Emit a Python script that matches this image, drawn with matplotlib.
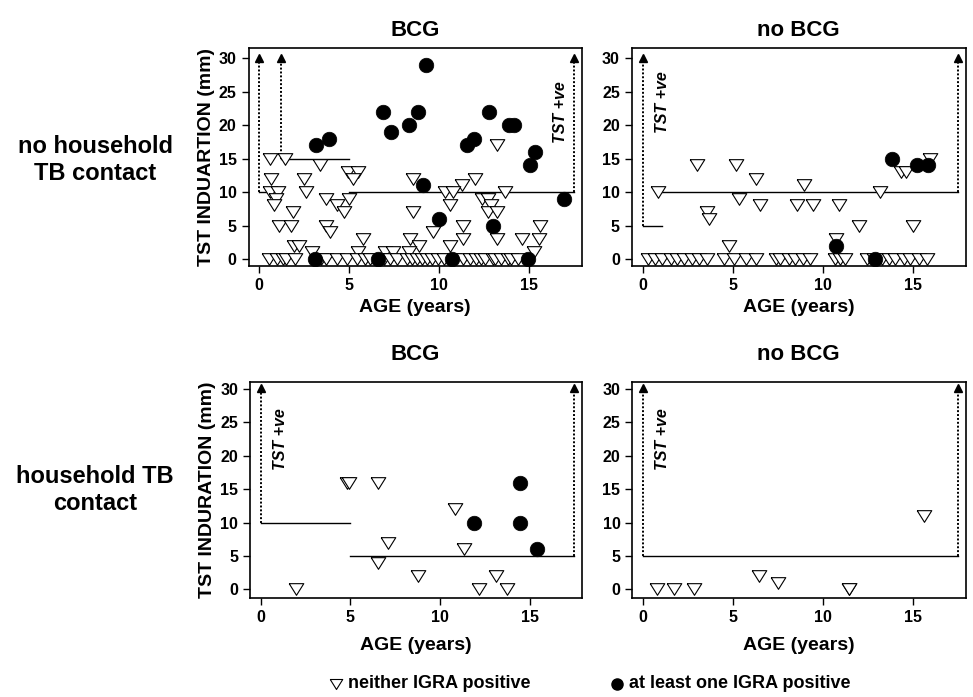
import matplotlib
matplotlib.use("Agg")
import matplotlib.pyplot as plt
from matplotlib.lines import Line2D
import numpy as np

plt.rcParams['font.family'] = ['Liberation Sans', 'DejaVu Sans']
plt.rcParams['font.weight'] = 'bold'

# ---------------- data ----------------
col_titles = ["BCG", "no BCG"]
row_titles = ["no household\nTB contact", "household TB\ncontact"]
ylabels = ["TST INDUARTION (mm)", "TST INDURATION (mm)"]
xlabel = "AGE (years)"
legend_labels = ["neither IGRA positive", "at least one IGRA positive"]
xticks = [0, 5, 10, 15]
yticks = [0, 5, 10, 15, 20, 25, 30]

# top-left: no household contact, BCG
tl_tri_age = [0.62, 1.45, 3.37, 13.2, 4.95, 5.5,
              0.65, 2.47, 5.2, 8.55, 12.0, 11.25,
              0.62, 1.02, 2.6, 10.32, 10.78, 13.66,
              0.93, 3.7, 5.0, 12.36, 12.73,
              0.84, 4.3, 10.6, 12.88,
              1.86, 4.7, 8.55, 12.73, 13.2,
              1.1, 1.77, 3.7, 11.34, 15.6,
              3.9, 9.63,
              5.76, 8.37, 11.34, 13.2, 14.6, 15.52,
              1.95, 2.2, 8.88, 10.6,
              2.95, 5.5, 6.97, 7.44, 8.33, 15.24,
              0.56, 0.97, 1.3, 1.49, 1.96, 3.45, 3.73, 4.29, 4.85, 5.41,
              5.88, 6.16, 6.9, 7.28, 7.65, 8.2, 8.49, 8.77, 9.05, 9.33,
              9.6, 9.9, 10.26, 10.82, 11.3, 11.7, 12.03, 12.3, 12.55, 12.97,
              13.1, 13.45, 13.8, 14.0, 14.35]
tl_tri_mm = [15, 15, 14, 17, 13, 13,
             12, 12, 12, 12, 12, 11,
             10, 10, 10, 10, 10, 10,
             9, 9, 9, 9, 9,
             8, 8, 8, 8,
             7, 7, 7, 7, 7,
             5, 5, 5, 5, 5,
             4, 4,
             3, 3, 3, 3, 3, 3,
             2, 2, 2, 2,
             1, 1, 1, 1, 1, 1,
             0, 0, 0, 0, 0, 0, 0, 0, 0, 0,
             0, 0, 0, 0, 0, 0, 0, 0, 0, 0,
             0, 0, 0, 0, 0, 0, 0, 0, 0, 0,
             0, 0, 0, 0, 0]
tl_dot_age = [3.08, 3.13, 3.88, 6.6, 6.88, 7.31, 8.31, 8.79, 9.24, 9.11, 9.98,
              10.7, 11.53, 11.9, 12.74, 13.01, 13.85, 14.13, 14.9, 15.06, 15.34, 16.92]
tl_dot_mm = [0, 17, 18, 0, 22, 19, 20, 22, 29, 11, 6,
             0, 17, 18, 22, 5, 20, 20, 0, 14, 16, 9]

# top-right: no household contact, no BCG
tr_tri_age = [0.87, 3.04, 3.55, 3.68, 4.8, 5.2, 5.34, 6.3, 6.5, 8.56, 8.93, 9.45,
              10.7, 10.87, 11.97, 13.16, 14.3, 14.6, 15.0, 15.93,
              0.28, 0.68, 1.1, 1.57, 1.93, 2.3, 2.76, 3.13, 3.59, 4.51, 5.06,
              5.71, 6.26, 7.37, 7.64, 8.1, 8.47, 8.9, 9.3, 10.68, 10.96, 11.23,
              12.43, 12.8, 13.26, 13.63, 14.0, 14.46, 14.82, 15.29, 15.75]
tr_tri_mm = [10, 14, 7, 6, 2, 14, 9, 12, 8, 8, 11, 8,
             3, 8, 5, 10, 13, 13, 5, 15,
             0, 0, 0, 0, 0, 0, 0, 0, 0, 0, 0,
             0, 0, 0, 0, 0, 0, 0, 0, 0, 0, 0,
             0, 0, 0, 0, 0, 0, 0, 0, 0]
tr_dot_age = [10.74, 12.9, 13.8, 15.19, 15.83]
tr_dot_mm = [2, 0, 15, 14, 14]

# bottom-left: household contact, BCG
bl_tri_age = [1.99, 4.8, 4.9, 6.56, 6.56, 7.1, 8.77, 10.83, 11.34, 12.2, 13.13, 13.74]
bl_tri_mm = [0, 16, 16, 16, 4, 7, 2, 12, 6, 0, 2, 0]
bl_dot_age = [11.9, 14.47, 14.47, 15.4]
bl_dot_mm = [10, 16, 10, 6]

# bottom-right: household contact, no BCG
br_tri_age = [0.77, 1.73, 2.84, 6.45, 7.46, 11.4, 11.45, 15.6]
br_tri_mm = [0, 0, 0, 2, 1, 0, 0, 11]
br_dot_age = []
br_dot_mm = []

# TST positivity cut-offs: (age_from, age_to, cutoff mm)
tl_cut = [(0, 1.2, 10), (1.2, 5, 15), (5, 17.5, 10)]
tr_cut = [(0, 1.1, 5), (1.1, 17.5, 10)]
bl_cut = [(0, 5, 10), (5, 17.5, 5)]
br_cut = [(0, 17.5, 5)]
# dotted arrows: (age, from mm)
tl_arrows = [(0, 10), (1.2, 15), (17.5, 10)]
tr_arrows = [(0, 5), (17.5, 10)]
bl_arrows = [(0, 10), (17.5, 5)]
br_arrows = [(0, 5), (17.5, 5)]
# "TST +ve" label position (age, mm)
tl_lab = (16.75, 22)
tr_lab = (1.1, 23.5)
bl_lab = (1.1, 22.5)
br_lab = (1.1, 22.5)

# ---------------- figure ----------------
W, H = 973, 697
fig = plt.figure(figsize=(W / 100, H / 100), dpi=100)

tri_marker = [(-1.0, 0.8), (1.0, 0.8), (0.0, -0.8), (-1.0, 0.8)]

def px(x0, y0, x1, y1):
    return [x0 / W, 1 - y1 / H, (x1 - x0) / W, (y1 - y0) / H]

panels = [
    (px(248.5, 48.3, 581.5, 265.7), (-1.0, 31.5), tl_tri_age, tl_tri_mm, tl_dot_age, tl_dot_mm, tl_cut, tl_arrows, tl_lab, True, 0),
    (px(631.7, 48.3, 965.7, 265.7), (-1.0, 31.5), tr_tri_age, tr_tri_mm, tr_dot_age, tr_dot_mm, tr_cut, tr_arrows, tr_lab, False, 0),
    (px(250.0, 381.7, 581.5, 597.7), (-1.25, 31.1), bl_tri_age, bl_tri_mm, bl_dot_age, bl_dot_mm, bl_cut, bl_arrows, bl_lab, True, 1),
    (px(632.3, 381.7, 965.7, 597.7), (-1.25, 31.1), br_tri_age, br_tri_mm, br_dot_age, br_dot_mm, br_cut, br_arrows, br_lab, False, 1),
]

for rect, ylim, ta, tm, da, dm, cuts, arrows, lab, left, row in panels:
    ax = fig.add_axes(rect)
    ax.set_xlim(-0.6, 17.9)
    ax.set_ylim(*ylim)
    for x0, x1, c in cuts:
        ax.plot([x0, x1], [c, c], color='black', lw=1.0, zorder=2)
    for xa, y0 in arrows:
        ax.plot([xa, xa], [y0, 29.9], color='black', lw=1.4, ls=(0, (1, 1)), zorder=2)
        ax.plot([xa], [30.1], marker='^', ms=5.5, color='black', zorder=2)
    ax.text(lab[0], lab[1], "TST +ve", rotation=90, ha='center', va='center',
            fontsize=11.5, fontweight='bold', fontstyle='italic')
    ax.scatter(ta, tm, marker=tri_marker, s=110, facecolor='white',
               edgecolor='black', linewidths=0.8, zorder=3)
    if len(da):
        ax.scatter(da, dm, marker='o', s=110, facecolor='black',
                   edgecolor='black', linewidths=0.5, zorder=4)
    ax.set_xticks(xticks)
    ax.set_yticks(yticks)
    ax.tick_params(direction='out', length=5, width=1.0, labelsize=11.5)
    for t in ax.get_xticklabels() + ax.get_yticklabels():
        t.set_fontweight('bold')
    for s in ax.spines.values():
        s.set_linewidth(1.2)
    ax.set_xlabel(xlabel, fontsize=14, fontweight='bold', labelpad=5 if row == 0 else 9)
    if left:
        ax.set_ylabel(ylabels[row], fontsize=14, fontweight='bold', labelpad=3)

# column titles
for yy in (30, 355):
    fig.text(415 / W, 1 - yy / H, col_titles[0], ha='center', va='center', fontsize=16, fontweight='bold')
    fig.text(798 / W, 1 - yy / H, col_titles[1], ha='center', va='center', fontsize=16, fontweight='bold')

# row titles
fig.text(95 / W, 1 - 160 / H, row_titles[0], ha='center', va='center', fontsize=17,
         fontweight='bold', linespacing=1.25)
fig.text(95 / W, 1 - 490 / H, row_titles[1], ha='center', va='center', fontsize=17,
         fontweight='bold', linespacing=1.25)

# legend
ly = 1 - 684 / H
fig.add_artist(Line2D([336 / W], [ly], transform=fig.transFigure, marker=tri_marker,
                      ms=9, mfc='white', mec='black', mew=0.8, ls='none'))
fig.text(348 / W, ly, legend_labels[0], ha='left', va='center', fontsize=13, fontweight='bold')
fig.add_artist(Line2D([617 / W], [ly], transform=fig.transFigure, marker='o',
                      ms=8, mfc='black', mec='black', ls='none'))
fig.text(629 / W, ly, legend_labels[1], ha='left', va='center', fontsize=13, fontweight='bold')

fig.savefig("out.png", dpi=100)
